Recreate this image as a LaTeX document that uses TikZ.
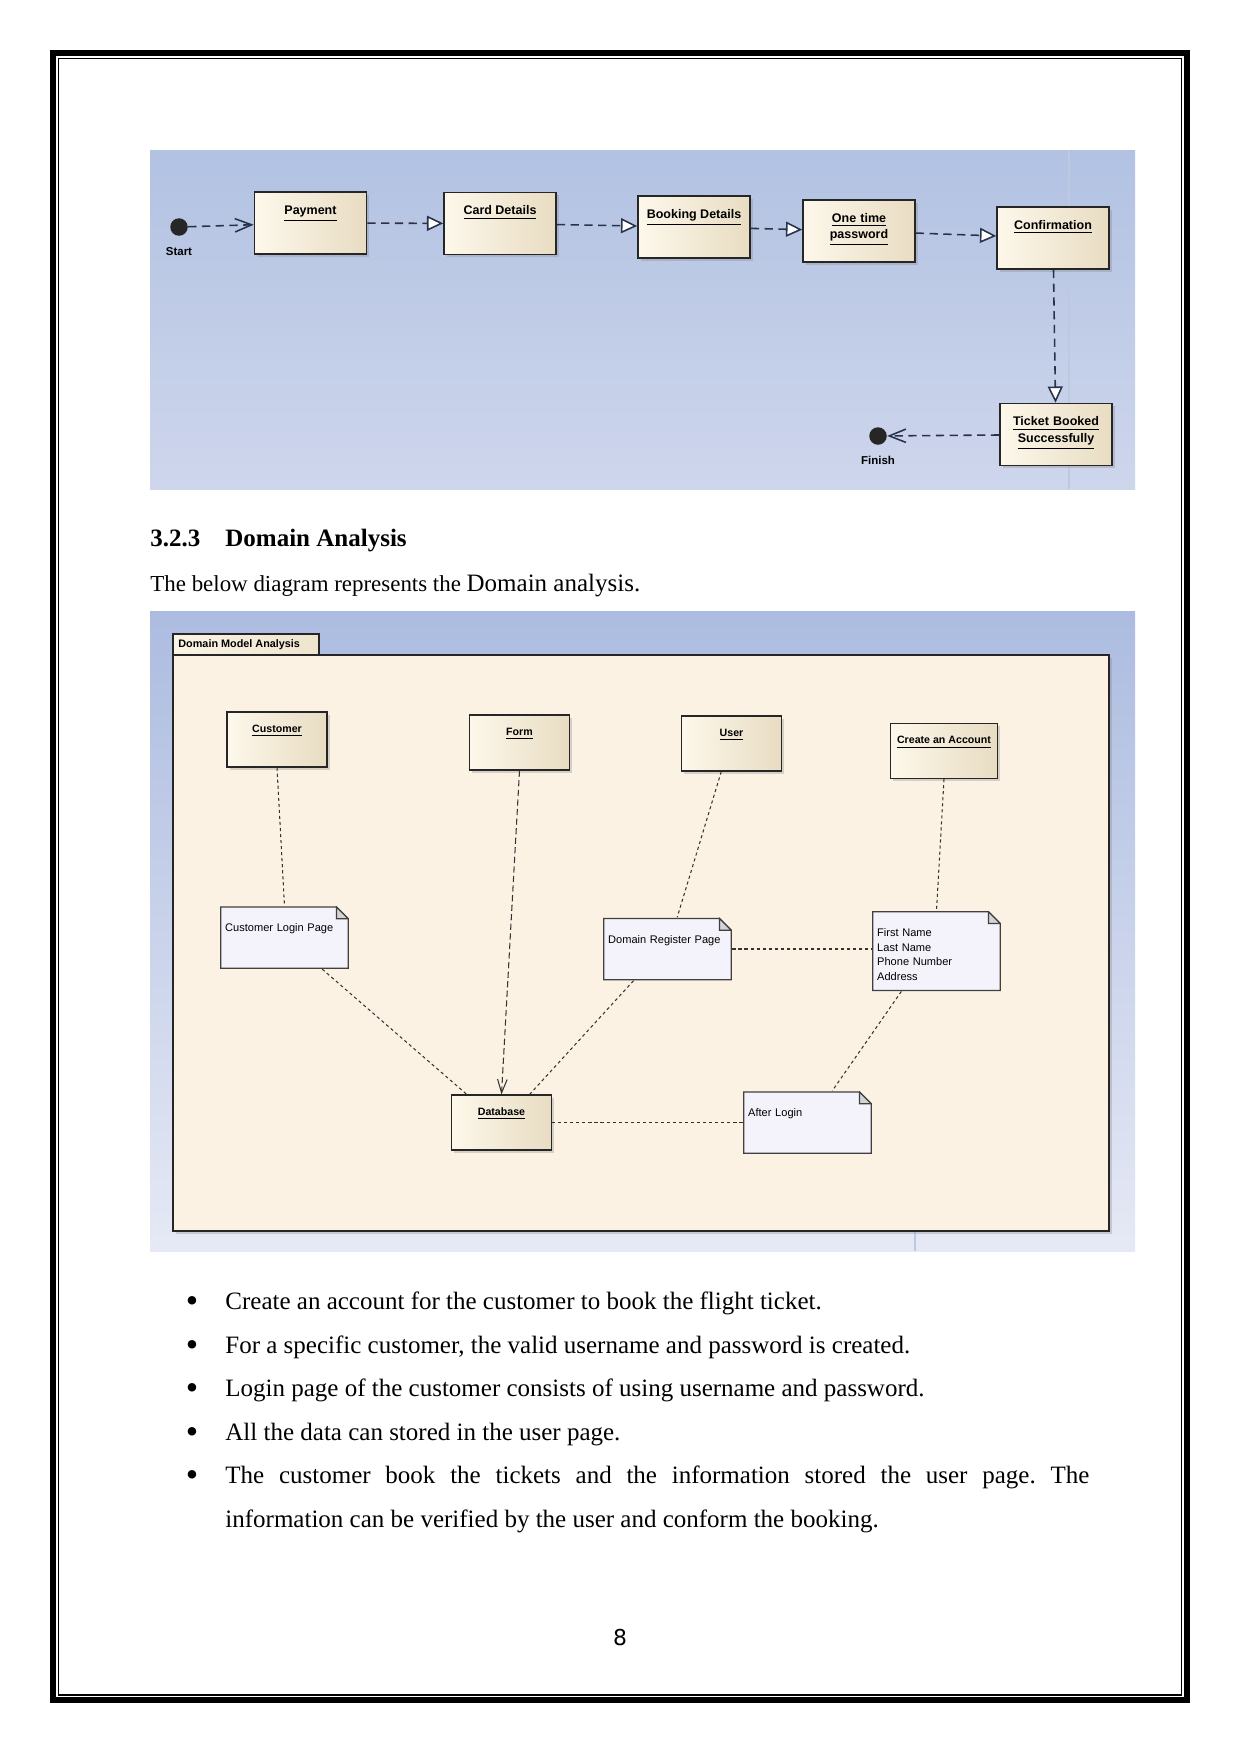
\documentclass[tikz,border=0pt]{standalone}
\usepackage{fontspec}
\setmainfont{Liberation Serif}
\newfontfamily\umlfont{Liberation Sans}
\newfontfamily\pgnumfont{DejaVu Sans}
\usetikzlibrary{arrows.meta,shadows}

\definecolor{actbgtop}{RGB}{178,194,226}
\definecolor{actbgbot}{RGB}{206,214,236}
\definecolor{dombgtop}{RGB}{172,188,224}
\definecolor{dombgbot}{RGB}{230,233,245}
\definecolor{framebg}{RGB}{252,242,228}
\definecolor{boxlt}{RGB}{253,248,235}
\definecolor{boxdk}{RGB}{232,220,194}
\definecolor{tablt}{RGB}{250,244,230}
\definecolor{tabdk}{RGB}{238,228,206}
\definecolor{notebg}{RGB}{244,243,251}
\definecolor{foldgray}{RGB}{212,212,216}
\definecolor{flowline}{RGB}{40,50,75}
\definecolor{gridline}{RGB}{190,200,224}

\begin{document}
\begin{tikzpicture}[x=0.48pt, y=-0.48pt,
  actbox/.style={rectangle, draw=black!85, line width=.7pt, left color=boxlt, right color=boxdk,
    minimum width=53.8pt, minimum height=29.8pt, inner sep=0pt, text height=10.8pt, text depth=19pt,
    font=\umlfont\bfseries\fontsize{6}{7.9}\selectfont,
    drop shadow={opacity=.3, shadow xshift=1.3pt, shadow yshift=-1.3pt}},
  twoline/.style={text width=52pt, align=center},
  domcls/.style={rectangle, draw=black!85, line width=.6pt, left color=boxlt, right color=boxdk,
    minimum width=48pt, minimum height=26.4pt, inner sep=0pt, text height=9.8pt, text depth=16.6pt,
    font=\umlfont\bfseries\fontsize{5.1}{6.3}\selectfont,
    drop shadow={opacity=.3, shadow xshift=1.2pt, shadow yshift=-1.2pt}},
  notebox/.style={rectangle, inner xsep=2.5pt, inner ysep=0pt, minimum width=61.9pt, minimum height=30pt,
    text width=56.9pt, align=left, text height=12.3pt, text depth=17.7pt,
    font=\umlfont\fontsize{5.3}{7}\selectfont,
    path picture={
      \filldraw[draw=black!75, line width=.6pt, fill=notebg]
        ([shift={(.3pt,.3pt)}]path picture bounding box.south west)
        |- ([shift={(-6pt,-.3pt)}]path picture bounding box.north east)
        -- ([shift={(-.3pt,-6pt)}]path picture bounding box.north east)
        |- ([shift={(.3pt,.3pt)}]path picture bounding box.south west) -- cycle;
      \filldraw[draw=black!75, line width=.6pt, fill=foldgray]
        ([shift={(-6pt,-.3pt)}]path picture bounding box.north east)
        |- ([shift={(-.3pt,-6pt)}]path picture bounding box.north east) -- cycle;
    }},
  dot/.style={circle, fill=black!85, minimum size=8.4pt, inner sep=0pt},
  dotlbl/.style={inner sep=0pt, font=\umlfont\bfseries\fontsize{5.5}{6.5}\selectfont},
  flow/.style={draw=flowline, line width=.75pt, dash pattern=on 4pt off 2.6pt},
  hollow/.style={-{Triangle[length=7.8pt,width=7.2pt,fill=white]}},
  barb/.style={-{Straight Barb[length=8pt,width=6.4pt]}},
  link/.style={draw=black!80, line width=.5pt, dash pattern=on 1.5pt off 1.4pt},
  bodytxt/.style={anchor=base west, inner sep=0pt, font=\fontsize{12}{20.9}\selectfont\frenchspacing}]

\fill[white] (0,0) rectangle (1241,1754);
\useasboundingbox (0,0) rectangle (1241,1754);
\draw[line width=2.9pt] (53,53) rectangle (1187,1700);
\draw[line width=.7pt] (58.5,58.5) rectangle (1181.5,1695);

\shade[top color=actbgtop, bottom color=actbgbot] (150,150) rectangle (1135,489);
\draw[gridline, line width=.6pt] (1069,150) -- (1069,489);

\node[dot] (start) at (179,227) {};
\node[dotlbl] (startlbl) at (179,252) {Start};
\node[actbox] (pay) at (310.5,223) {\underline{Payment}};
\node[actbox] (card) at (500,223.5) {\underline{Card Details}};
\node[actbox] (book) at (694,227) {\underline{Booking Details}};
\node[actbox, twoline] (otp) at (859,231) {\underline{One time}\\\underline{password}};
\node[actbox] (conf) at (1053,238) {\underline{Confirmation}};
\node[actbox, twoline] (ticket) at (1056,434.5) {\underline{Ticket Booked}\\\underline{Successfully}};
\node[dot] (finish) at (878,436) {};
\node[dotlbl] (finishlbl) at (878,460) {Finish};

\draw[flow, barb] (start) -- (pay);
\draw[flow, hollow] (pay) -- (card);
\draw[flow, hollow] (card) -- (book);
\draw[flow, hollow] (book) -- (otp);
\draw[flow, hollow] (otp) -- (conf);
\draw[flow, hollow] (conf) -- (ticket);
\draw[flow, barb] (ticket) -- (finish);

\node[anchor=base west, inner sep=0pt, font=\bfseries\fontsize{12}{14}\selectfont] (head) at (150,546.5) {3.2.3\hspace{12pt}Domain Analysis};
\node[anchor=base west, inner sep=0pt, font=\fontsize{11}{13}\selectfont] (intro) at (150,591.5) {The below diagram represents the {\fontsize{12}{14}\selectfont Domain analysis.}};

\shade[top color=dombgtop, bottom color=dombgbot] (150,611) rectangle (1135,1251);
\draw[gridline, line width=.6pt] (915,1231) -- (915,1251);
\draw[draw=black!85, line width=.8pt, fill=framebg, drop shadow={opacity=.3, shadow xshift=1.2pt, shadow yshift=-1.2pt}] (173,655) rectangle (1109,1231);
\draw[draw=black!85, line width=.7pt, left color=tablt, right color=tabdk] (173,634) rectangle (319,655);
\node[anchor=west, inner sep=0pt, font=\umlfont\bfseries\fontsize{5.2}{6}\selectfont] (tablbl) at (178,644.5) {Domain Model Analysis};

\node[domcls] (cust) at (277,739.5) {\underline{Customer}};
\node[domcls] (form) at (519.5,742.5) {\underline{Form}};
\node[domcls] (user) at (731.5,743.5) {\underline{User}};
\node[domcls, minimum width=51.4pt] (acct) at (944,751) {\underline{Create an Account}};
\node[notebox] (login) at (284.5,937.5) {Customer Login Page};
\node[notebox] (reg) at (667.5,949) {Domain Register Page};
\node[notebox, minimum height=38.4pt, text depth=26.1pt] (info) at (936.5,951) {First Name\\Last Name\\Phone Number\\Address};
\node[domcls] (db) at (501.5,1122.5) {\underline{Database}};
\node[notebox] (after) at (807.5,1122.5) {After Login};

\draw[link] (cust.south) -- (login.north);
\draw[link, dash pattern=on 3pt off 1.6pt, -{Straight Barb[length=6.5pt,width=4.6pt]}] (form.south) -- (db.north);
\draw[link] (user.250) -- (reg.73);
\draw[link] (acct.south) -- (info.north);
\draw[link] (reg.east) -- (reg.east -| info.west);
\draw[link] (login.-40) -- (db.141);
\draw[link] (reg.223) -- (db.45);
\draw[link] (info.229) -- (after.52);
\draw[link] (db.east) -- (after.west);

\foreach \y [count=\i] in {1309.5,1353,1396.5,1440,1483.5}
  \node[anchor=base, inner sep=0pt, font=\fontsize{17}{19}\selectfont] (bul\i) at (192,\y+3.4) {\textbullet};
\node[bodytxt] (item1) at (225,1309.5) {Create an account for the customer to book the flight ticket.};
\node[bodytxt] (item2) at (225,1353) {For a specific customer, the valid username and password is created.};
\node[bodytxt] (item3) at (225,1396.5) {Login page of the customer consists of using username and password.};
\node[bodytxt] (item4) at (225,1440) {All the data can stored in the user page.};
\node[bodytxt, text width=414.7pt, align=justify] (item5) at (225,1483.5) {The customer book the tickets and the information stored the user page. The\linebreak information can be verified by the user and conform the booking.};

\node[font=\pgnumfont\fontsize{10.5}{12}\selectfont] (pgnum) at (620,1638) {8};
\end{tikzpicture}
\end{document}
